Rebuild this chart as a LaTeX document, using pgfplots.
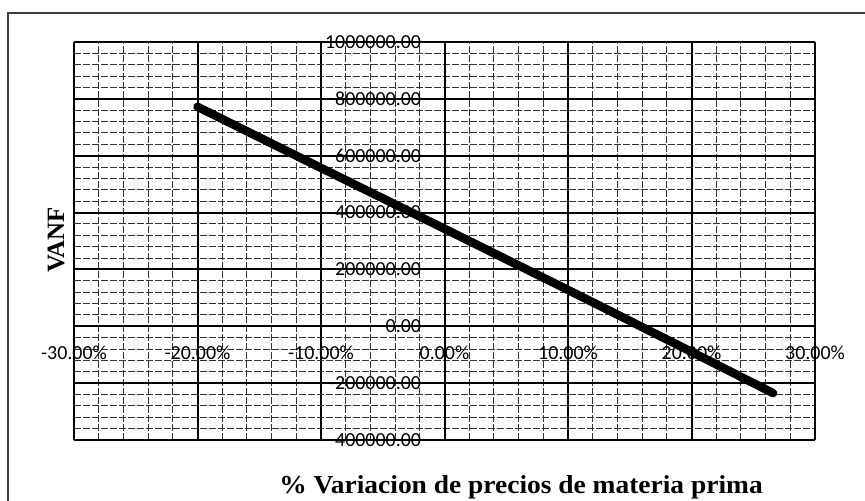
\documentclass[border=0pt]{standalone}
\usepackage{pgfplots}
\pgfplotsset{compat=1.18}
\usepackage{fontspec}
\setmainfont{Carlito}
\newfontfamily\serifb{Liberation Serif}
\begin{document}
\begin{tikzpicture}[x=1bp,y=1bp]
\useasboundingbox (0,0) rectangle (865,501);
\draw[black!75, line width=1.5bp] (8,0) -- (8,488) -- (865,488);
\begin{axis}[
  at={(74bp,61bp)}, anchor=south west,
  scale only axis, width=741bp, height=398bp,
  xmin=-30, xmax=30, ymin=-400000, ymax=1000000,
  axis x line=middle, axis y line=middle,
  axis line style={-, black, line width=2bp},
  hide obscured x ticks=false, hide obscured y ticks=false,
  xtick={-30,-20,-10,0,10,20,30},
  xticklabels={-30.00\%,-20.00\%,-10.00\%,0.00\%,10.00\%,20.00\%,30.00\%},
  ytick={-400000,-200000,0,200000,400000,600000,800000,1000000},
  yticklabels={-400000.00,-200000.00,0.00,200000.00,400000.00,600000.00,800000.00,1000000.00},
  scaled y ticks=false, scaled x ticks=false,
  minor x tick num=4, minor y tick num=4,
  grid=both,
  major grid style={black, line width=2bp},
  minor grid style={black!80, dash pattern=on 7bp off 2bp, line width=1bp},
  major tick length=0pt, minor tick length=0pt,
  tick label style={font=\fontsize{20}{24}\selectfont},
  xticklabel style={anchor=north, yshift=-16bp},
  yticklabel style={anchor=east, xshift=-20bp},
  clip=false,
]
\addplot[black, line width=8.5bp, line cap=round] coordinates {
(-20,772000) (-10,557000) (0,343000) (10,128000) (20,-90000) (26.6,-235000)
};
\end{axis}
\node[rotate=90, font=\serifb\bfseries\fontsize{25}{28}\selectfont] at (56,261) {VANF};
\node at (521,14) {\scalebox{1.06}[1]{\serifb\bfseries\fontsize{26}{30}\selectfont \% Variacion de precios de materia prima}};
\end{tikzpicture}
\end{document}
